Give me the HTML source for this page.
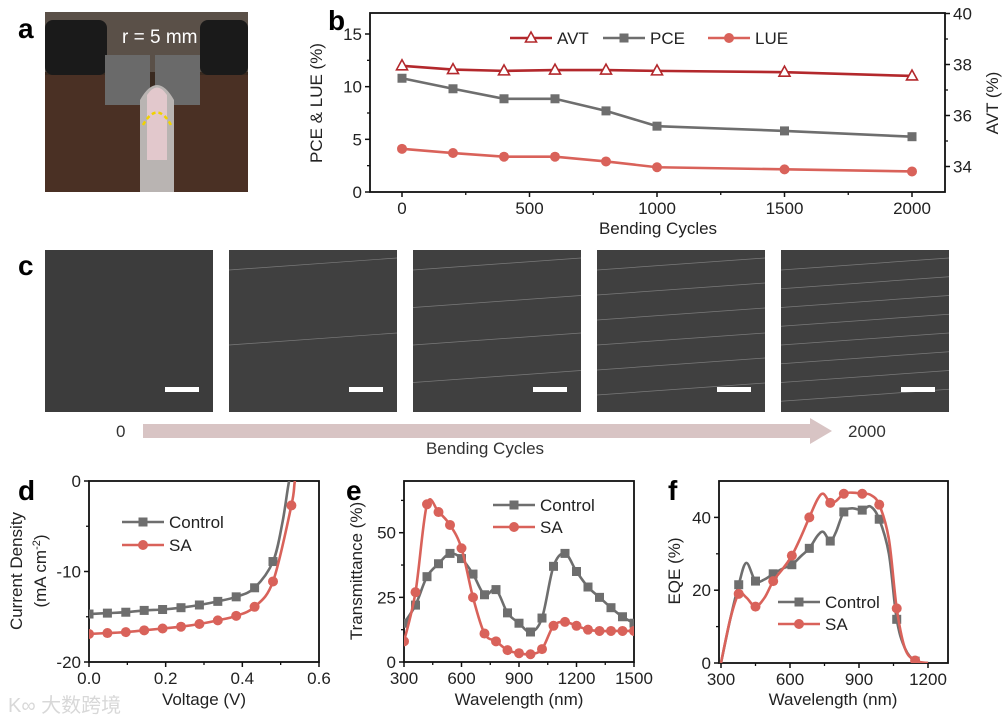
<!DOCTYPE html>
<html><head><meta charset="utf-8"><style>
html,body{margin:0;padding:0;background:#fff;}
svg{display:block;font-family:"Liberation Sans","Noto Sans CJK SC",sans-serif;}
</style></head><body>
<svg id="fig" width="1006" height="721" viewBox="0 0 1006 721" xmlns="http://www.w3.org/2000/svg">
<defs>
<clipPath id="cb"><rect x="370" y="13" width="575" height="179"/></clipPath>
<clipPath id="cd"><rect x="89" y="481" width="230" height="181"/></clipPath>
<clipPath id="ce"><rect x="404" y="481" width="230" height="181"/></clipPath>
<clipPath id="cf"><rect x="719" y="481" width="229" height="182"/></clipPath>
</defs>
<g>
<rect x="45" y="12" width="203" height="180" fill="#3a2a20"/>
<rect x="45" y="12" width="203" height="60" fill="#5a5048"/>
<rect x="45" y="20" width="62" height="55" rx="8" fill="#1a1a1a"/>
<rect x="200" y="20" width="48" height="55" rx="8" fill="#1a1a1a"/>
<rect x="45" y="75" width="95" height="117" fill="#4a3024"/>
<rect x="165" y="75" width="83" height="117" fill="#4a3024"/>
<rect x="105" y="55" width="45" height="50" fill="#6a6a6a"/>
<rect x="155" y="55" width="45" height="50" fill="#6a6a6a"/>
<path d="M140 192 L140 100 Q157 70 174 100 L174 192 Z" fill="#b9b4b2"/>
<path d="M147 160 L147 95 Q157 80 167 95 L167 160 Z" fill="#e2c8cc"/>
<path d="M143 125 Q157 100 171 125" fill="none" stroke="#f0d200" stroke-width="2.5" stroke-dasharray="4,3"/>
<text x="122" y="43" font-size="19" fill="#fff">r = 5 mm</text>
</g>
<text x="18" y="38" font-size="28" font-weight="bold">a</text>
<text x="328" y="30" font-size="28" font-weight="bold">b</text>
<text x="18" y="275" font-size="28" font-weight="bold">c</text>
<text x="18" y="500" font-size="28" font-weight="bold">d</text>
<text x="346" y="500" font-size="28" font-weight="bold">e</text>
<text x="668" y="500" font-size="28" font-weight="bold">f</text>
<g id="pc"></g>
<g>
<polygon points="143,424 810,424 810,418 832,431 810,444 810,438 143,438" fill="#d8c4c4"/>
<text x="116" y="437" font-size="17" fill="#333">0</text>
<text x="848" y="437" font-size="17" fill="#333">2000</text>
<text x="485" y="454" font-size="17" fill="#333" text-anchor="middle">Bending Cycles</text>
</g>
<text x="8" y="712" font-size="20" fill="#d8d8d8">K∞ 大数跨境</text>
</svg>
<script>
const bCycles=[0,200,400,600,800,1000,1500,2000];
const bAVT=[37.95,37.8,37.75,37.78,37.78,37.75,37.7,37.55];
const bPCE=[10.8,9.8,8.85,8.85,7.7,6.25,5.8,5.25];
const bLUE=[4.1,3.7,3.35,3.35,2.9,2.35,2.15,1.95];
const bXTicks=[0,500,1000,1500,2000];
const bYTicks=[0,5,10,15];
const bY2Ticks=[34,36,38,40];
const dVctl=[0,0.048,0.096,0.144,0.192,0.24,0.288,0.336,0.384,0.432,0.48,0.505,0.522,0.54];
const dJctl=[-14.7,-14.6,-14.5,-14.3,-14.2,-14.0,-13.7,-13.3,-12.8,-11.8,-8.9,-4.5,0,3];
const dVsa=[0,0.048,0.096,0.144,0.192,0.24,0.288,0.336,0.384,0.432,0.48,0.528,0.537,0.55];
const dJsa=[-16.9,-16.8,-16.7,-16.5,-16.3,-16.1,-15.8,-15.4,-14.9,-13.9,-11.1,-2.7,0,3];
const dXTicks=[0,0.2,0.4,0.6];
const dYTicks=[-20,-10,0];
const eWl=[300,360,420,480,540,600,660,720,780,840,900,960,1020,1080,1140,1200,1260,1320,1380,1440,1500];
const eCtl=[15,22,33,38,42,40,34,26,28,19,15,11.6,17,37,42,35,29,25,21,17.5,15];
const eSA=[8,27,61,58,53,44,25,11,8,4.6,3.4,3,5,14,15.5,14,12.5,12,12,12,12];
const eXTicks=[300,600,900,1200,1500];
const eYTicks=[0,25,50];
const fWl=[300,340,377,410,450,490,527,570,608,650,684,720,745,775,800,834,870,914,950,988,1030,1064,1100,1144,1200];
const fCtl=[0,12,21.5,27.5,22.5,23,24.5,26,27,29.5,31.5,35,36,33.5,36,41.5,42.5,42,43,39.5,30,12,4,0.5,0];
const fSA=[0,12,19,18,15.5,18,22.5,26,29.5,35,40,45,46.5,44,44.5,46.5,46.8,46.5,46.2,43.5,34,15,4,0.7,0];
const fMarkIdx=[2,4,6,8,10,13,15,17,19,21,23];
const fXTicks=[300,600,900,1200];
const fYTicks=[0,20,40];

const NS='http://www.w3.org/2000/svg';
const svg=document.getElementById('fig');
const GRAY='#6e6e6e',RED='#d9625a',DRED='#b3282c';
function el(tag,attrs,parent){const e=document.createElementNS(NS,tag);for(const k in attrs)e.setAttribute(k,attrs[k]);(parent||svg).appendChild(e);return e;}
function scale(d0,d1,r0,r1){return v=>r0+(v-d0)/(d1-d0)*(r1-r0);}
function fmt(v,dec){return v.toFixed(dec);}
function frame(name,x0,y0,x1,y1){const r=el('rect',{x:x0,y:y0,width:x1-x0,height:y1-y0,fill:'none',stroke:'#111','stroke-width':1.8});

}
function xAxis(name,sx,ticks,minor,y,dec){const g=el('g',{});


ticks.forEach(t=>{el('line',{x1:sx(t),x2:sx(t),y1:y,y2:y+5,stroke:'#111','stroke-width':1.5},g);const tx=el('text',{x:sx(t),y:y+22,'font-size':17,'text-anchor':'middle',fill:'#222'},g);tx.textContent=fmt(t,dec);});
minor.forEach(t=>{el('line',{x1:sx(t),x2:sx(t),y1:y,y2:y+3,stroke:'#111','stroke-width':1.3},g);});}
function yAxis(name,sy,ticks,minor,x,dec,right){const g=el('g',{});


const s=right?1:-1;
ticks.forEach(t=>{el('line',{x1:x,x2:x+5*s,y1:sy(t),y2:sy(t),stroke:'#111','stroke-width':1.5},g);const tx=el('text',{x:x+8*s,y:sy(t)+6,'font-size':17,'text-anchor':right?'start':'end',fill:'#222'},g);tx.textContent=fmt(t,dec);});
minor.forEach(t=>{el('line',{x1:x,x2:x+3*s,y1:sy(t),y2:sy(t),stroke:'#111','stroke-width':1.3},g);});}
function label(txt,x,y,rot,name,size){const t=el('text',{x:x,y:y,'font-size':size||17,'text-anchor':'middle',fill:'#222',transform:rot?`rotate(-90 ${x} ${y})`:''});t.textContent=txt;

return t;}
function smoothPath(pts){let d=`M${pts[0][0]},${pts[0][1]}`;for(let i=0;i<pts.length-1;i++){const p0=pts[Math.max(0,i-1)],p1=pts[i],p2=pts[i+1],p3=pts[Math.min(pts.length-1,i+2)];
const c1=[p1[0]+(p2[0]-p0[0])/6,p1[1]+(p2[1]-p0[1])/6],c2=[p2[0]-(p3[0]-p1[0])/6,p2[1]-(p3[1]-p1[1])/6];d+=` C${c1[0]},${c1[1]} ${c2[0]},${c2[1]} ${p2[0]},${p2[1]}`;}return d;}
function series(name,xs,ys,sx,sy,color,marker,smooth,clip,markIdx){const g=el('g',{'clip-path':`url(#${clip})`});


const pts=xs.map((x,i)=>[sx(x),sy(ys[i])]);
el('path',{d:smooth?smoothPath(pts):'M'+pts.map(p=>p.join(',')).join(' L'),fill:'none',stroke:color,'stroke-width':2.6},g);
const idx=markIdx||pts.map((p,i)=>i);
idx.forEach(i=>{const p=pts[i];let m;
if(marker==='sq')m=el('rect',{x:p[0]-4.5,y:p[1]-4.5,width:9,height:9,fill:color},g);
else if(marker==='ci')m=el('circle',{cx:p[0],cy:p[1],r:5,fill:color},g);
else m=el('polygon',{points:`${p[0]},${p[1]-6} ${p[0]-5.5},${p[1]+4} ${p[0]+5.5},${p[1]+4}`,fill:'#fff',stroke:color,'stroke-width':1.6},g);

});}
function legend(name,x,y,txt,color,marker){const g=el('g',{});


el('line',{x1:x,x2:x+42,y1:y,y2:y,stroke:color,'stroke-width':2.6},g);
const c=x+21;if(marker==='sq')el('rect',{x:c-4.5,y:y-4.5,width:9,height:9,fill:color},g);
else if(marker==='ci')el('circle',{cx:c,cy:y,r:5,fill:color},g);
else el('polygon',{points:`${c},${y-6} ${c-5.5},${y+4} ${c+5.5},${y+4}`,fill:'#fff',stroke:color,'stroke-width':1.6},g);
const t=el('text',{x:x+47,y:y+6,'font-size':17,fill:'#222'},g);t.textContent=txt;}

{const sx=scale(0,2000,402,912),sy=scale(0,15,192,34),sy2=scale(33,40,192,13.5);
frame('panel-b',370,13,945,192);
xAxis('panel-b',sx,bXTicks,[250,750,1250,1750],192,0);
yAxis('panel-b',sy,bYTicks,[2.5,7.5,12.5],370,0,false);
yAxis('panel-b-right',sy2,bY2Ticks,[35,37,39],945,0,true);
label('Bending Cycles',658,234,false,'panel-b-x-title');
label('PCE & LUE (%)',322,103,true,'panel-b-y-title');
label('AVT (%)',998,103,true,'panel-b-y2-title');
series('avt-series',bCycles,bAVT,sx,sy2,DRED,'tri',false,'cb');
series('pce-series',bCycles,bPCE,sx,sy,GRAY,'sq',false,'cb');
series('lue-series',bCycles,bLUE,sx,sy,RED,'ci',false,'cb');
legend('legend-avt',510,38,'AVT',DRED,'tri');
legend('legend-pce',603,38,'PCE',GRAY,'sq');
legend('legend-lue',708,38,'LUE',RED,'ci');}

{const pc=document.getElementById('pc');const xs=[45,229,413,597,781];
xs.forEach((x,i)=>{const g=el('g',{},pc);


el('rect',{x:x,y:250,width:168,height:162,fill:i===0?'#3c3c3c':'#404040'},g);
for(let k=0;k<i*2;k++){el('line',{x1:x,y1:262+k*(150/(i*2))+8,x2:x+168,y2:258+k*(150/(i*2)),stroke:'#7a7a7a','stroke-width':0.7},g);}
el('rect',{x:x+120,y:387,width:34,height:5,fill:'#fff'},g);});}

{const sx=scale(0,0.6,89,319),sy=scale(-20,0,662,481);
frame('panel-d',89,481,319,662);
xAxis('panel-d',sx,dXTicks,[0.1,0.3,0.5],662,1);
yAxis('panel-d',sy,dYTicks,[-15,-5],89,0,false);
label('Voltage (V)',204,705,false,'panel-d-x-title');
label('Current Density',22,571,true,'panel-d-y-title');
const t=label('',46,571,true,'panel-d-y-unit');t.innerHTML='(mA cm<tspan dy="-6" font-size="11">-2</tspan><tspan dy="6">)</tspan>';
series('control-jv',dVctl,dJctl,sx,sy,GRAY,'sq',true,'cd',[0,1,2,3,4,5,6,7,8,9,10]);
series('sa-jv',dVsa,dJsa,sx,sy,RED,'ci',true,'cd',[0,1,2,3,4,5,6,7,8,9,10,11]);
legend('legend-d-control',122,522,'Control',GRAY,'sq');
legend('legend-d-sa',122,545,'SA',RED,'ci');}

{const sx=scale(300,1500,404,634),sy=scale(0,70,662,481);
frame('panel-e',404,481,634,662);
xAxis('panel-e',sx,eXTicks,[450,750,1050,1350],662,0);
yAxis('panel-e',sy,eYTicks,[12.5,37.5,62.5],404,0,false);
label('Wavelength (nm)',519,705,false,'panel-e-x-title');
label('Transmittance (%)',362,571,true,'panel-e-y-title');
series('control-transmittance',eWl,eCtl,sx,sy,GRAY,'sq',true,'ce');
series('sa-transmittance',eWl,eSA,sx,sy,RED,'ci',true,'ce');
legend('legend-e-control',493,505,'Control',GRAY,'sq');
legend('legend-e-sa',493,527,'SA',RED,'ci');}

{const sx=scale(300,1200,721,928),sy=scale(0,50,663,481);
frame('panel-f',719,481,948,663);
xAxis('panel-f',sx,fXTicks,[450,750,1050],663,0);
yAxis('panel-f',sy,fYTicks,[10,30],719,0,false);
label('Wavelength (nm)',833,705,false,'panel-f-x-title');
label('EQE (%)',680,571,true,'panel-f-y-title');
series('control-eqe',fWl,fCtl,sx,sy,GRAY,'sq',true,'cf',fMarkIdx);
series('sa-eqe',fWl,fSA,sx,sy,RED,'ci',true,'cf',fMarkIdx);
legend('legend-f-control',778,602,'Control',GRAY,'sq');
legend('legend-f-sa',778,624,'SA',RED,'ci');}
</script>
</body></html>
